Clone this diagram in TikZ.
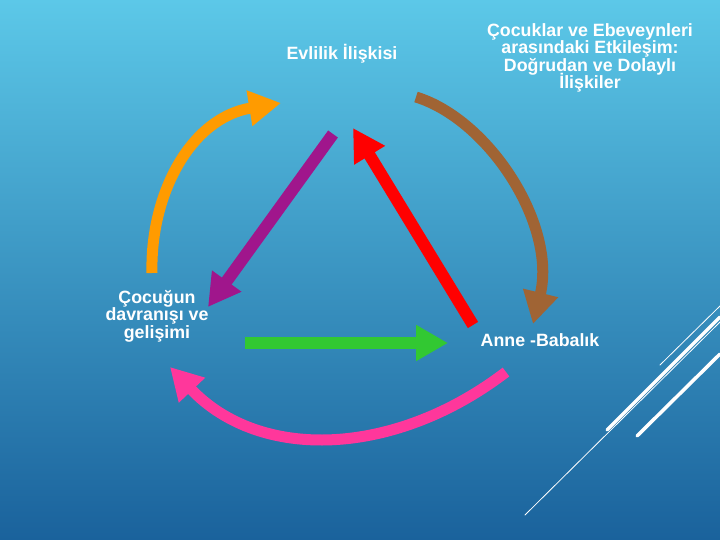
\documentclass[tikz,border=0pt]{standalone}
\usepackage{fontspec}
\setmainfont{Liberation Sans}
\usepackage{xcolor}
\usetikzlibrary{arrows.meta, positioning}

\definecolor{gokUst}{RGB}{92,200,232}
\definecolor{gokAlt}{RGB}{26,98,156}
\definecolor{turuncu}{RGB}{255,155,0}
\definecolor{kahve}{RGB}{160,100,52}
\definecolor{pembe}{RGB}{255,55,155}
\definecolor{mor}{RGB}{160,22,140}
\definecolor{kirmizi}{RGB}{255,0,0}
\definecolor{yesil}{RGB}{50,200,50}
\newcommand{\yaziFont}{\fontsize{17.8}{17.5}\selectfont\bfseries\lineskiplimit=-20pt\relax}

\begin{document}
\begin{tikzpicture}[
        x=1pt, y=-1pt,
        yazi/.style={
            text=white,
            align=center,
            inner sep=0pt,
            font=\yaziFont
        },
        ok/.style={line width=12pt, -{Triangle[length=32pt,width=34pt]}},
        egri/.style={line width=11pt, -{Triangle[length=32pt,width=34pt]}},
        cizgi/.style={white, line cap=round}
    ]

    \shade [top color=gokUst, bottom color=gokAlt] (0,0) rectangle (720,540);
    \useasboundingbox (0,0) rectangle (720,540);

    \draw [cizgi, line width=0.8pt] (525,515) -- (722,320);
    \draw [cizgi, line width=0.8pt] (660,365) -- (722,304);
    \draw [cizgi, line width=3.5pt] (607,430) -- (720,317);
    \draw [cizgi, line width=3.5pt] (637,436) -- (720,354);

    \node (evlilik) [yazi] at (342,53.5) {Evlilik İlişkisi};
    \node (etkilesim) [yazi] at (590,58) {Çocuklar ve Ebeveynleri\\arasındaki Etkileşim:\\Doğrudan ve Dolaylı\\İlişkiler};
    \node (cocuk) [yazi] at (157,316) {Çocuğun\\davranışı ve\\gelişimi};
    \node (anne) [yazi] at (540,340) {Anne -Babalık};

    \coordinate (turuncuA) at (152,273);
    \coordinate (turuncuB) at (281,103);
    \coordinate (kahveA) at (416,97);
    \coordinate (kahveB) at (533,324);
    \coordinate (pembeA) at (506,372);
    \coordinate (pembeB) at (170,367);
    \coordinate (morA) at (333,134);
    \coordinate (morB) at (208,307);
    \coordinate (kirmiziA) at (473,325);
    \coordinate (kirmiziB) at (353,128);
    \coordinate (yesilA) at (245,343);
    \coordinate (yesilB) at (448,343);

    \draw [egri, turuncu] (turuncuA) .. controls (150,195) and (190,118) .. (turuncuB);
    \draw [egri, kahve] (kahveA) .. controls (490,120) and (557,226) .. (kahveB);
    \draw [egri, pembe] (pembeA) .. controls (395,457) and (260,462) .. (pembeB);

    \draw [ok, mor] (morA) -- (morB);
    \draw [ok, kirmizi] (kirmiziA) -- (kirmiziB);
    \draw [ok, yesil] (yesilA) -- (yesilB);

    \end{tikzpicture}
\end{document}
